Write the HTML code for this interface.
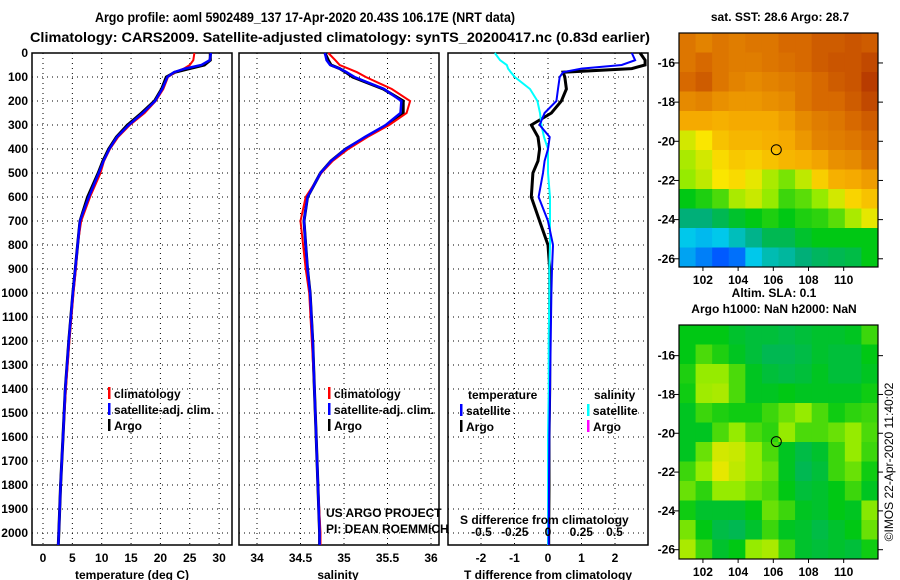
<!DOCTYPE html>
<html><head><meta charset="utf-8"><style>
body{margin:0;background:#fff;}
svg{display:block;font-family:"Liberation Sans",sans-serif;}
.b{font-weight:bold;font-size:12px;}
</style></head><body>
<svg id="c" width="900" height="580" viewBox="0 0 900 580" xmlns="http://www.w3.org/2000/svg">
<text x="305" y="22" text-anchor="middle" font-size="14" font-weight="bold" textLength="420" lengthAdjust="spacingAndGlyphs">Argo profile: aoml 5902489_137 17-Apr-2020 20.43S 106.17E (NRT data)</text>
<text x="340" y="42" text-anchor="middle" font-size="14" font-weight="bold" textLength="620" lengthAdjust="spacingAndGlyphs">Climatology: CARS2009. Satellite-adjusted climatology: synTS_20200417.nc (0.83d earlier)</text>
<text x="780" y="21" text-anchor="middle" class="b">sat. SST: 28.6 Argo: 28.7</text>
<text x="774" y="297" text-anchor="middle" class="b">Altim. SLA: 0.1</text>
<text x="774" y="313" text-anchor="middle" class="b">Argo h1000: NaN h2000: NaN</text>
<text transform="translate(893,462) rotate(-90)" text-anchor="middle" font-size="12">©IMOS 22-Apr-2020 11:40:02</text>
<g id="g"></g>
</svg>
<script>
// ---- data ----
const depths = [0,30,50,65,80,100,150,200,250,300,350,400,450,500,600,700,800,900,1000,1200,1400,1600,1800,2000,2050];
const tempArgo = [28.5,28.5,27.5,25,22.5,21,20.2,19,16.8,14.4,12.5,11.2,10.2,9.4,7.6,6.3,5.9,5.5,5.1,4.4,3.8,3.4,3.0,2.7,2.6];
const tempClim = [25.8,25.6,25,24,22.5,21.3,20.5,19.2,17.3,14.8,12.8,11.4,10.4,9.8,8.0,6.5,5.9,5.6,5.2,4.5,3.9,3.4,3.0,2.7,2.6];
const tempSat = [28.6,28.4,27,24.2,22.3,21.2,20.3,19.1,17.0,14.6,12.6,11.3,10.3,9.5,7.8,6.3,5.9,5.5,5.1,4.4,3.8,3.4,3.0,2.7,2.6];
const salArgo = [34.78,34.82,34.85,34.95,35.02,35.1,35.45,35.68,35.68,35.5,35.25,35.02,34.85,34.73,34.58,34.54,34.56,34.58,34.61,34.64,34.66,34.68,34.70,34.72,34.72];
const salClim = [34.82,34.9,34.95,35.05,35.15,35.25,35.55,35.76,35.72,35.52,35.27,35.05,34.87,34.74,34.56,34.5,34.53,34.56,34.6,34.63,34.66,34.68,34.70,34.73,34.73];
const salSat = [34.78,34.8,34.84,34.95,35.03,35.12,35.46,35.66,35.65,35.48,35.24,35.02,34.85,34.73,34.58,34.54,34.56,34.58,34.61,34.64,34.66,34.68,34.70,34.72,34.72];
const dTArgo = [2.75,2.9,2.9,2.5,0.45,0.5,0.55,0.4,0.1,-0.5,-0.3,-0.25,-0.3,-0.45,-0.5,-0.25,0,0.05,0.05,0.05,0.05,0.03,0.03,0.02,0.02];
const dTSat = [2.5,2.6,2.2,1.0,0.45,0.35,0.3,0.25,-0.1,-0.25,0.05,0.0,-0.1,-0.15,-0.28,0,0.15,0.12,0.1,0.08,0.06,0.04,0.03,0.02,0.02];
const dSSat = [-0.4,-0.36,-0.31,-0.3,-0.28,-0.25,-0.135,-0.08,-0.06,-0.05,-0.03,0,0,0,0.015,0.015,0.015,0.01,0.01,0.005,0.005,0,0,0,0];
const depthTicks = [0,100,200,300,400,500,600,700,800,900,1000,1100,1200,1300,1400,1500,1600,1700,1800,1900,2000];
const tempTicks = [0,5,10,15,20,25,30];
const salTicks = [34,34.5,35,35.5,36];
const dTTicks = [-2,-1,0,1,2];
const dSTicks = [-0.5,-0.25,0,0.25,0.5];
const latTicks = [-16,-18,-20,-22,-24,-26];
const lonTicks = [102,104,106,108,110];
const argoLon = 106.17, argoLat = -20.43;
const sstGrid = [
[.88,.86,.88,.87,.88,.88,.9,.9,.92,.92,.93,.92],
[.88,.9,.88,.87,.87,.88,.89,.9,.92,.93,.93,.95],
[.9,.92,.88,.86,.85,.86,.87,.88,.9,.92,.93,.97],
[.85,.86,.84,.83,.83,.84,.85,.88,.9,.9,.92,.95],
[.8,.8,.79,.8,.8,.8,.82,.85,.87,.88,.9,.92],
[.66,.7,.76,.78,.78,.79,.8,.83,.86,.87,.88,.9],
[.62,.66,.72,.75,.74,.76,.78,.79,.81,.84,.85,.88],
[.6,.64,.7,.72,.68,.62,.58,.64,.74,.79,.8,.82],
[.5,.52,.55,.62,.65,.6,.54,.56,.6,.66,.73,.76],
[.42,.42,.45,.48,.5,.52,.5,.52,.53,.56,.62,.68],
[.3,.28,.3,.35,.4,.45,.45,.48,.5,.5,.5,.5],
[.25,.2,.15,.18,.3,.36,.38,.42,.44,.45,.46,.5]];
const slaGrid = [
[.5,.5,.5,.48,.47,.47,.46,.47,.48,.48,.49,.54],
[.5,.55,.52,.49,.47,.45,.45,.46,.48,.47,.47,.5],
[.52,.6,.6,.55,.49,.47,.46,.47,.49,.47,.47,.49],
[.51,.61,.62,.55,.49,.49,.5,.49,.49,.49,.49,.51],
[.49,.54,.52,.51,.51,.54,.57,.6,.55,.51,.53,.54],
[.49,.49,.55,.6,.55,.53,.6,.55,.55,.57,.6,.55],
[.49,.57,.66,.65,.6,.55,.49,.46,.48,.54,.6,.54],
[.54,.6,.68,.64,.6,.57,.49,.45,.47,.54,.57,.51],
[.57,.53,.6,.6,.57,.55,.5,.47,.48,.5,.54,.49],
[.51,.48,.48,.48,.5,.57,.54,.49,.48,.5,.49,.59],
[.58,.5,.46,.45,.48,.54,.49,.48,.46,.48,.5,.57],
[.62,.54,.48,.5,.6,.62,.54,.48,.47,.48,.47,.51]];

const NS="http://www.w3.org/2000/svg";
const G=document.getElementById('g');
function mk(tag,attrs,parent){const e=document.createElementNS(NS,tag);for(const k in attrs)e.setAttribute(k,attrs[k]);(parent||G).appendChild(e);return e;}
const TOP=53, PX100=24, BOT=545;
const yD=d=>TOP+d/100*PX100;

function panel(name,x0,x1,xs,xticks,xfmt,withDepthLabels){
  const g=mk('g',{});
  
  
  xticks.forEach(t=>{const x=xs(t);mk('line',{x1:x,x2:x,y1:TOP,y2:BOT,stroke:'#000','stroke-dasharray':'1 4'},g);
    const tx=mk('text',{x:x,y:562,'text-anchor':'middle',class:'b'},g);tx.textContent=xfmt(t);
    
    });
  depthTicks.forEach(d=>{const y=yD(d);if(d>0)mk('line',{x1:x0,x2:x1,y1:y,y2:y,stroke:'#000','stroke-dasharray':'1 4'},g);
    if(withDepthLabels){const t=mk('text',{x:28,y:y+4,'text-anchor':'end',class:'b'},g);t.textContent=d;
      
      }});
  mk('rect',{x:x0,y:TOP,width:x1-x0,height:BOT-TOP,fill:'none',stroke:'#000','stroke-width':1.5},g);
  return g;
}
function line(vals,xs,color,w,name){
  const pts=vals.map((v,i)=>xs(v).toFixed(1)+','+yD(depths[i]).toFixed(1)).join(' ');
  const p=mk('polyline',{points:pts,fill:'none',stroke:color,'stroke-width':w});
  
  
}
function txt(x,y,s,cls,name,extra){const t=mk('text',Object.assign({x:x,y:y,class:cls||'b'},extra||{}));t.textContent=s;
  
  return t;}
function legend(x,y,items){items.forEach((it,i)=>{mk('rect',{x:x,y:y+i*16-11,width:2.5,height:12,fill:it[1]});txt(x+6,y+i*16,it[0],'b','legend-entry');});}

// panel 1 temperature
const xT=t=>43+t*5.87;
panel('temperature-panel',32,232,xT,tempTicks,t=>t,true);
line(tempArgo,xT,'#000',3,'argo-temperature-line');
line(tempClim,xT,'#f00',2,'climatology-temperature-line');
line(tempSat,xT,'#00f',2.5,'satellite-temperature-line');
legend(108,398,[['climatology','#f00'],['satellite-adj. clim.','#00f'],['Argo','#000']]);
txt(132,579,'temperature (deg C)','b','x-axis-title-temperature',{'text-anchor':'middle'});

// panel 2 salinity
const xS=s=>257+(s-34)*87;
panel('salinity-panel',239,439,xS,salTicks,t=>t,false);
line(salArgo,xS,'#000',3,'argo-salinity-line');
line(salClim,xS,'#f00',2,'climatology-salinity-line');
line(salSat,xS,'#00f',2.5,'satellite-salinity-line');
legend(328,398,[['climatology','#f00'],['satellite-adj. clim.','#00f'],['Argo','#000']]);
txt(338,579,'salinity','b','x-axis-title-salinity',{'text-anchor':'middle'});
txt(326,517,'US ARGO PROJECT','','credit-us-argo',{'font-size':12});
txt(326,533,'PI: DEAN ROEMMICH','','credit-pi',{'font-size':12});

// panel 3 differences
const xDT=t=>548+t*33.5, xDS=s=>548+s*133;
panel('difference-panel',448,648,xDT,dTTicks,t=>t,false);
line(dTArgo,xDT,'#000',3,'argo-temperature-difference-line');
line(dSSat,xDS,'#0ff',2,'satellite-salinity-difference-line');
line(dTSat,xDT,'#00f',2,'satellite-temperature-difference-line');
dSTicks.forEach(s=>txt(xDS(s),536,s===0?'0':String(s),'b','s-tick-label',{'text-anchor':'middle'}));
txt(460,524,'S difference from climatology','b','s-axis-title');
txt(548,579,'T difference from climatology','b','x-axis-title-t-difference',{'text-anchor':'middle'});
txt(468,399,'temperature','b','legend-header-temperature');
txt(594,399,'salinity','b','legend-header-salinity');
legend(460,415,[['satellite','#00f'],['Argo','#000']]);
legend(587,415,[['satellite','#0ff'],['Argo','#f0f']]);

// maps
const cstops=[[0,[0,0,140]],[.15,[0,90,255]],[.3,[0,200,235]],[.42,[0,175,120]],[.5,[0,200,20]],[.6,[150,235,0]],[.7,[250,230,0]],[.8,[245,170,0]],[.9,[215,105,0]],[1,[170,40,0]]];
function cmap(v){for(let i=1;i<cstops.length;i++){if(v<=cstops[i][0]){const a=cstops[i-1],b=cstops[i],f=(v-a[0])/(b[0]-a[0]);return 'rgb('+a[1].map((c,k)=>Math.round(c+(b[1][k]-c)*f)).join(',')+')';}}return 'rgb(170,40,0)';}
function map(name,x0,x1,y0,y1,lon0,lon1,lat0,lat1,grid){
  const g=mk('g',{});
  
  
  const xs=l=>x0+(l-lon0)/(lon1-lon0)*(x1-x0), ys=l=>y0+(lat0-l)/(lat0-lat1)*(y1-y0);
  const R=grid.length,C=grid[0].length,cw=(x1-x0)/C,ch=(y1-y0)/R;
  grid.forEach((row,r)=>row.forEach((v,c)=>{const cell=mk('rect',{x:x0+c*cw,y:y0+r*ch,width:cw+0.5,height:ch+0.5,fill:cmap(v)},g);
    
    }));
  mk('rect',{x:x0,y:y0,width:x1-x0,height:y1-y0,fill:'none',stroke:'#000','stroke-width':1.2},g);
  latTicks.forEach(l=>{const y=ys(l);mk('line',{x1:x0-5,x2:x0,y1:y,y2:y,stroke:'#000'},g);mk('line',{x1:x1,x2:x1+5,y1:y,y2:y,stroke:'#000'},g);
    const t=mk('text',{x:x0-4,y:y+4,'text-anchor':'end',class:'b'},g);t.textContent=l;
    
    });
  lonTicks.forEach(l=>{const x=xs(l);mk('line',{x1:x,x2:x,y1:y1,y2:y1+4,stroke:'#000'},g);
    const t=mk('text',{x:x,y:y1+17,'text-anchor':'middle',class:'b'},g);t.textContent=l;
    
    });
  const m=mk('circle',{cx:xs(argoLon),cy:ys(argoLat),r:5,fill:'none',stroke:'#000','stroke-width':1},g);
  
  
}
map('sst-map',679,878,33,267,100.64,111.95,-14.47,-26.42,sstGrid);
map('sla-map',679,878,325,559,100.64,111.95,-14.42,-26.48,slaGrid);
</script>
</body></html>
